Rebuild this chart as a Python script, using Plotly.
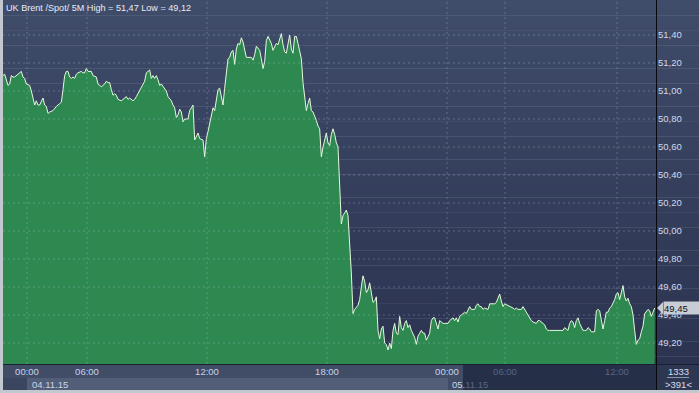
import plotly.graph_objects as go

# ---------------- data (5-minute bars, UK Brent spot) ----------------
bar_index = [
    0, 1, 3, 4, 5, 6, 7, 9, 11, 12,
    13, 14, 16, 17, 18, 19, 20, 21, 22, 24,
    25, 26, 27, 28, 30, 32, 34, 35, 36, 37,
    38, 39, 40, 41, 42, 43, 44, 45, 47, 48,
    49, 50, 51, 53, 54, 56, 57, 58, 59, 61,
    62, 63, 64, 65, 66, 67, 68, 69, 71, 72,
    73, 74, 75, 76, 78, 79, 80, 82, 83, 85,
    86, 88, 89, 90, 91, 92, 93, 94, 95, 97,
    98, 99, 101, 102, 103, 104, 105, 106, 107, 108,
    109, 111, 112, 113, 114, 115, 116, 117, 118, 120,
    121, 122, 123, 124, 125, 126, 127, 128, 129, 130,
    131, 132, 133, 134, 135, 136, 137, 138, 139, 140,
    141, 142, 143, 144, 145, 146, 147, 149, 150, 151,
    152, 154, 155, 156, 157, 158, 159, 160, 161, 162,
    163, 164, 165, 166, 167, 168, 169, 170, 171, 172,
    173, 174, 175, 176, 177, 178, 179, 180, 181, 182,
    183, 184, 185, 186, 188, 189, 190, 191, 192, 193,
    194, 195, 196, 197, 198, 199, 200, 201, 202, 203,
    204, 205, 206, 207, 208, 209, 210, 211, 213, 214,
    215, 216, 217, 218, 219, 220, 221, 222, 223, 224,
    225, 226, 227, 228, 229, 230, 231, 232, 233, 234,
    235, 236, 237, 238, 239, 240, 241, 242, 243, 244,
    245, 246, 247, 248, 249, 250, 251, 252, 253, 254,
    255, 256, 257, 258, 259, 260, 261, 262, 263, 264,
    265, 266, 267, 268, 269, 270, 271, 272, 273, 274,
    275, 276, 277, 278, 279, 280, 281, 282, 283, 284,
    285, 286, 287, 288, 289, 291, 292, 294, 295, 296,
    297, 298, 299, 300, 301, 303, 304, 305, 306, 307,
    308, 309, 311, 312, 313, 314, 315, 316, 317, 318,
    320, 321, 322, 324, 325, 326, 327, 328, 331, 334,
    336, 337, 338, 339, 340, 341, 342, 343, 344, 345,
    346, 347, 348, 349, 350, 351, 352, 353, 354, 355,
    356, 357, 358, 359, 360, 361, 362, 363, 364, 365,
    366, 367, 368, 369, 370, 371, 372, 373, 374, 375,
    376, 377, 378, 379, 380, 381, 382, 383, 384, 385,
    386, 387, 388, 389, 390, 391,
]
close_price = [
    51.11, 51.12, 51.04, 51.05, 51.11, 51.10, 51.10, 51.12, 51.14, 51.10,
    51.09, 51.05, 51.04, 51.00, 50.94, 50.90, 50.93, 50.90, 50.90, 50.95,
    50.90, 50.89, 50.84, 50.85, 50.86, 50.89, 50.91, 50.92, 51.01, 51.11,
    51.14, 51.14, 51.10, 51.09, 51.10, 51.09, 51.12, 51.13, 51.14, 51.13,
    51.13, 51.16, 51.14, 51.14, 51.11, 51.10, 51.05, 51.04, 51.03, 51.05,
    51.07, 51.06, 51.06, 51.01, 50.97, 50.98, 50.97, 50.94, 50.93, 50.94,
    50.95, 50.96, 50.94, 50.95, 50.93, 50.94, 50.96, 51.00, 51.02, 51.07,
    51.13, 51.15, 51.09, 51.11, 51.09, 51.11, 51.08, 51.04, 51.05, 51.02,
    51.00, 50.96, 50.93, 50.90, 50.88, 50.81, 50.83, 50.87, 50.85, 50.78,
    50.80, 50.80, 50.86, 50.88, 50.90, 50.65, 50.67, 50.70, 50.66, 50.65,
    50.53, 50.66, 50.71, 50.77, 50.84, 50.88, 50.86, 50.93, 51.01, 51.02,
    50.96, 50.90, 51.02, 51.11, 51.23, 51.24, 51.28, 51.29, 51.19, 51.30,
    51.34, 51.33, 51.38, 51.35, 51.28, 51.24, 51.24, 51.24, 51.22, 51.26,
    51.32, 51.29, 51.23, 51.16, 51.21, 51.36, 51.39, 51.36, 51.34, 51.29,
    51.32, 51.34, 51.33, 51.38, 51.41, 51.33, 51.28, 51.27, 51.34, 51.40,
    51.30, 51.27, 51.39, 51.39, 51.34, 51.29, 51.23, 51.06, 50.94, 50.86,
    50.91, 50.95, 50.86, 50.85, 50.79, 50.75, 50.73, 50.53, 50.60, 50.66,
    50.70, 50.63, 50.61, 50.69, 50.73, 50.69, 50.63, 50.60, 50.25, 50.05,
    50.11, 50.13, 50.15, 50.11, 49.91, 49.70, 49.41, 49.44, 49.47, 49.51,
    49.60, 49.68, 49.64, 49.56, 49.58, 49.63, 49.56, 49.49, 49.50, 49.53,
    49.29, 49.23, 49.30, 49.32, 49.20, 49.19, 49.15, 49.20, 49.16, 49.29,
    49.34, 49.27, 49.26, 49.39, 49.31, 49.29, 49.34, 49.36, 49.31, 49.33,
    49.29, 49.27, 49.24, 49.19, 49.25, 49.27, 49.29, 49.27, 49.27, 49.22,
    49.25, 49.27, 49.36, 49.38, 49.38, 49.34, 49.30, 49.36, 49.35, 49.34,
    49.34, 49.34, 49.34, 49.36, 49.37, 49.38, 49.36, 49.38, 49.35, 49.39,
    49.40, 49.41, 49.42, 49.41, 49.44, 49.46, 49.44, 49.44, 49.44, 49.47,
    49.48, 49.46, 49.46, 49.44, 49.45, 49.44, 49.48, 49.48, 49.48, 49.49,
    49.52, 49.55, 49.50, 49.46, 49.48, 49.47, 49.46, 49.46, 49.45, 49.44,
    49.45, 49.44, 49.44, 49.46, 49.44, 49.42, 49.39, 49.38, 49.36, 49.35,
    49.34, 49.36, 49.36, 49.34, 49.33, 49.30, 49.29, 49.29, 49.29, 49.29,
    49.29, 49.31, 49.30, 49.29, 49.34, 49.36, 49.35, 49.31, 49.36, 49.38,
    49.34, 49.32, 49.29, 49.29, 49.29, 49.31, 49.30, 49.28, 49.28, 49.28,
    49.43, 49.44, 49.43, 49.35, 49.30, 49.36, 49.42, 49.42, 49.45, 49.46,
    49.48, 49.51, 49.55, 49.56, 49.51, 49.57, 49.61, 49.53, 49.50, 49.52,
    49.48, 49.46, 49.40, 49.29, 49.19, 49.22, 49.23, 49.28, 49.32, 49.41,
    49.43, 49.44, 49.43, 49.39, 49.42, 49.45,
]

x_tick_bars = [14.4, 50.4, 122.4, 194.4, 266.4, 301.2, 368.4]
x_tick_labels = ["00:00", "06:00", "12:00", "18:00", "00:00", "06:00", "12:00"]
x_tick_active = [True, True, True, True, True, False, False]
date_tick_bars = [14.4, 266.4]
date_labels = ["04.11.15", "05.11.15"]

y_tick_values = [49.20, 49.40, 49.60, 49.80, 50.00, 50.20, 50.40, 50.60, 50.80, 51.00, 51.20, 51.40]
y_tick_labels = ["49,20", "49,40", "49,60", "49,80", "50,00", "50,20",
                 "50,40", "50,60", "50,80", "51,00", "51,20", "51,40"]

title_text = "UK Brent /Spot/ 5M High = 51,47 Low = 49,12"
last_label = "49,45"
last_value = 49.45
bar_count_label = "1333"
visible_bars_label = ">391<"

# ---------------- layout geometry (pixels) ----------------
W, H = 699, 393
PL, PR, PT, PB = 3, 656, 0, 364   # plot area edges


def px_x(px):
    return (px - PL) / (PR - PL)


def px_y(py):
    return (PB - py) / (PB - PT)


FONT = "Liberation Sans, Arial, sans-serif"
FS = 9.5
LIGHT = "#c9d4ea"
DIM = "#5a6680"

fig = go.Figure()
fig.add_trace(go.Scatter(
    x=bar_index, y=close_price, mode="lines",
    line=dict(color="#e4fadc", width=1),
    fill="tozeroy", fillcolor="#2e8950",
    hoverinfo="skip",
))

shapes = []
# background gradient (plot + right axis panel)
top = (63, 76, 106)
bot = (43, 51, 80)
N = 48
for i in range(N):
    t = (i + 0.5) / N
    c = tuple(round(top[k] + (bot[k] - top[k]) * t) for k in range(3))
    shapes.append(dict(type="rect", xref="paper", yref="paper",
                       x0=px_x(PL), x1=px_x(W + 2),
                       y0=px_y(PT + (PB - PT) * (i + 1) / N) - 0.001,
                       y1=px_y(PT + (PB - PT) * i / N),
                       fillcolor="rgb(%d,%d,%d)" % c, line=dict(width=0), layer="below"))


def band(x0, x1, y0, y1, color):
    shapes.append(dict(type="rect", xref="paper", yref="paper",
                       x0=px_x(x0), x1=px_x(x1), y0=px_y(y1), y1=px_y(y0),
                       fillcolor=color, line=dict(width=0), layer="below"))


band(PL, 463, 364, 378, "#414c67")
band(463, PR, 364, 378, "#262f48")
band(PL, 27, 378, 390, "#3b4560")
band(27, 448, 378, 390, "#525e78")
band(448, 463, 378, 390, "#414c67")
band(463, PR, 378, 390, "#262f48")
band(PR, W + 2, 364, 390, "#2e3752")

# separator lines
shapes.append(dict(type="line", xref="paper", yref="paper",
                   x0=px_x(PL), x1=px_x(W + 2), y0=px_y(364.5), y1=px_y(364.5),
                   line=dict(color="#1a2031", width=1), layer="above"))
shapes.append(dict(type="line", xref="paper", yref="paper",
                   x0=px_x(667), x1=px_x(689), y0=px_y(377.5), y1=px_y(377.5),
                   line=dict(color="#8d98ae", width=1), layer="above"))

# dashed grid above the area
GRID = "rgba(190,205,235,0.30)"
for v in y_tick_values:
    shapes.append(dict(type="line", xref="paper", yref="y", x0=0, x1=1, y0=v, y1=v,
                       line=dict(color=GRID, width=1, dash="2px,3px"), layer="above"))
for b in x_tick_bars:
    shapes.append(dict(type="line", xref="x", yref="paper", x0=b, x1=b, y0=0, y1=1,
                       line=dict(color=GRID, width=1, dash="2px,3px"), layer="above"))

# right border of plot
shapes.append(dict(type="line", xref="paper", yref="paper",
                   x0=px_x(656.5), x1=px_x(656.5), y0=px_y(390), y1=px_y(0),
                   line=dict(color="#07090e", width=1), layer="above"))

# last price tag arrow
shapes.append(dict(type="path", xref="paper", yref="y", xsizemode="pixel", ysizemode="pixel",
                   xanchor=1, yanchor=last_value, path="M1,0 L7,6 L7,-6 Z",
                   fillcolor="#c8ccd5", line=dict(width=0), layer="above"))

annotations = [
    dict(text=title_text, xref="paper", yref="paper", x=0, y=1, xanchor="left", yanchor="top",
         xshift=1, yshift=-1, showarrow=False, font=dict(family=FONT, size=9.1, color="#e6ecf7")),
    dict(text=last_label, xref="paper", yref="y", x=1, y=last_value, xanchor="left", yanchor="middle",
         xshift=7, showarrow=False, bgcolor="#c8ccd5", borderpad=0, width=36, height=12, align="left",
         font=dict(family=FONT, size=FS, color="#111318")),
    dict(text=bar_count_label, xref="paper", yref="paper", x=px_x(678), y=px_y(371),
         xanchor="center", yanchor="middle", showarrow=False,
         font=dict(family=FONT, size=FS, color="#d5deef")),
    dict(text=visible_bars_label, xref="paper", yref="paper", x=px_x(678), y=px_y(384),
         xanchor="center", yanchor="middle", showarrow=False,
         font=dict(family=FONT, size=FS, color="#d5deef")),
    dict(text=date_labels[0], xref="x", yref="paper", x=date_tick_bars[0], y=px_y(384),
         xanchor="left", yanchor="middle", xshift=3, showarrow=False,
         font=dict(family=FONT, size=FS, color=LIGHT)),
    dict(text=date_labels[1][:3] + "<span style='color:%s'>%s</span>" % (DIM, date_labels[1][3:]),
         xref="x", yref="paper", x=date_tick_bars[1], y=px_y(384),
         xanchor="left", yanchor="middle", xshift=3, showarrow=False,
         font=dict(family=FONT, size=FS, color=LIGHT)),
]

x_ticktext = [lab if act else "<span style='color:%s'>%s</span>" % (DIM, lab)
              for lab, act in zip(x_tick_labels, x_tick_active)]

fig.update_layout(
    width=W, height=H,
    margin=dict(l=PL, r=W - PR, t=PT, b=H - PB, pad=0),
    paper_bgcolor="#c3c7cf", plot_bgcolor="rgba(0,0,0,0)",
    showlegend=False,
    shapes=shapes, annotations=annotations,
    xaxis=dict(range=[0, (PR - PL) * 0.6], showgrid=False, zeroline=False, showline=False,
               tickmode="array", tickvals=x_tick_bars, ticktext=x_ticktext, ticks="",
               tickfont=dict(family=FONT, size=FS, color=LIGHT), fixedrange=True),
    yaxis=dict(range=[51.65 - (PB - PT) / 140, 51.65], side="right", showgrid=False,
               zeroline=False, showline=False, tickmode="array", tickvals=y_tick_values,
               ticktext=y_tick_labels, ticks="", ticklabelstandoff=1,
               tickfont=dict(family=FONT, size=FS, color="#cfd9ee"), fixedrange=True),
)

fig.write_html(
    "out.html",
    config={"displayModeBar": False},
    post_script="document.body.style.margin='0';document.body.style.padding='0';"
                "document.documentElement.style.overflow='hidden';",
)
